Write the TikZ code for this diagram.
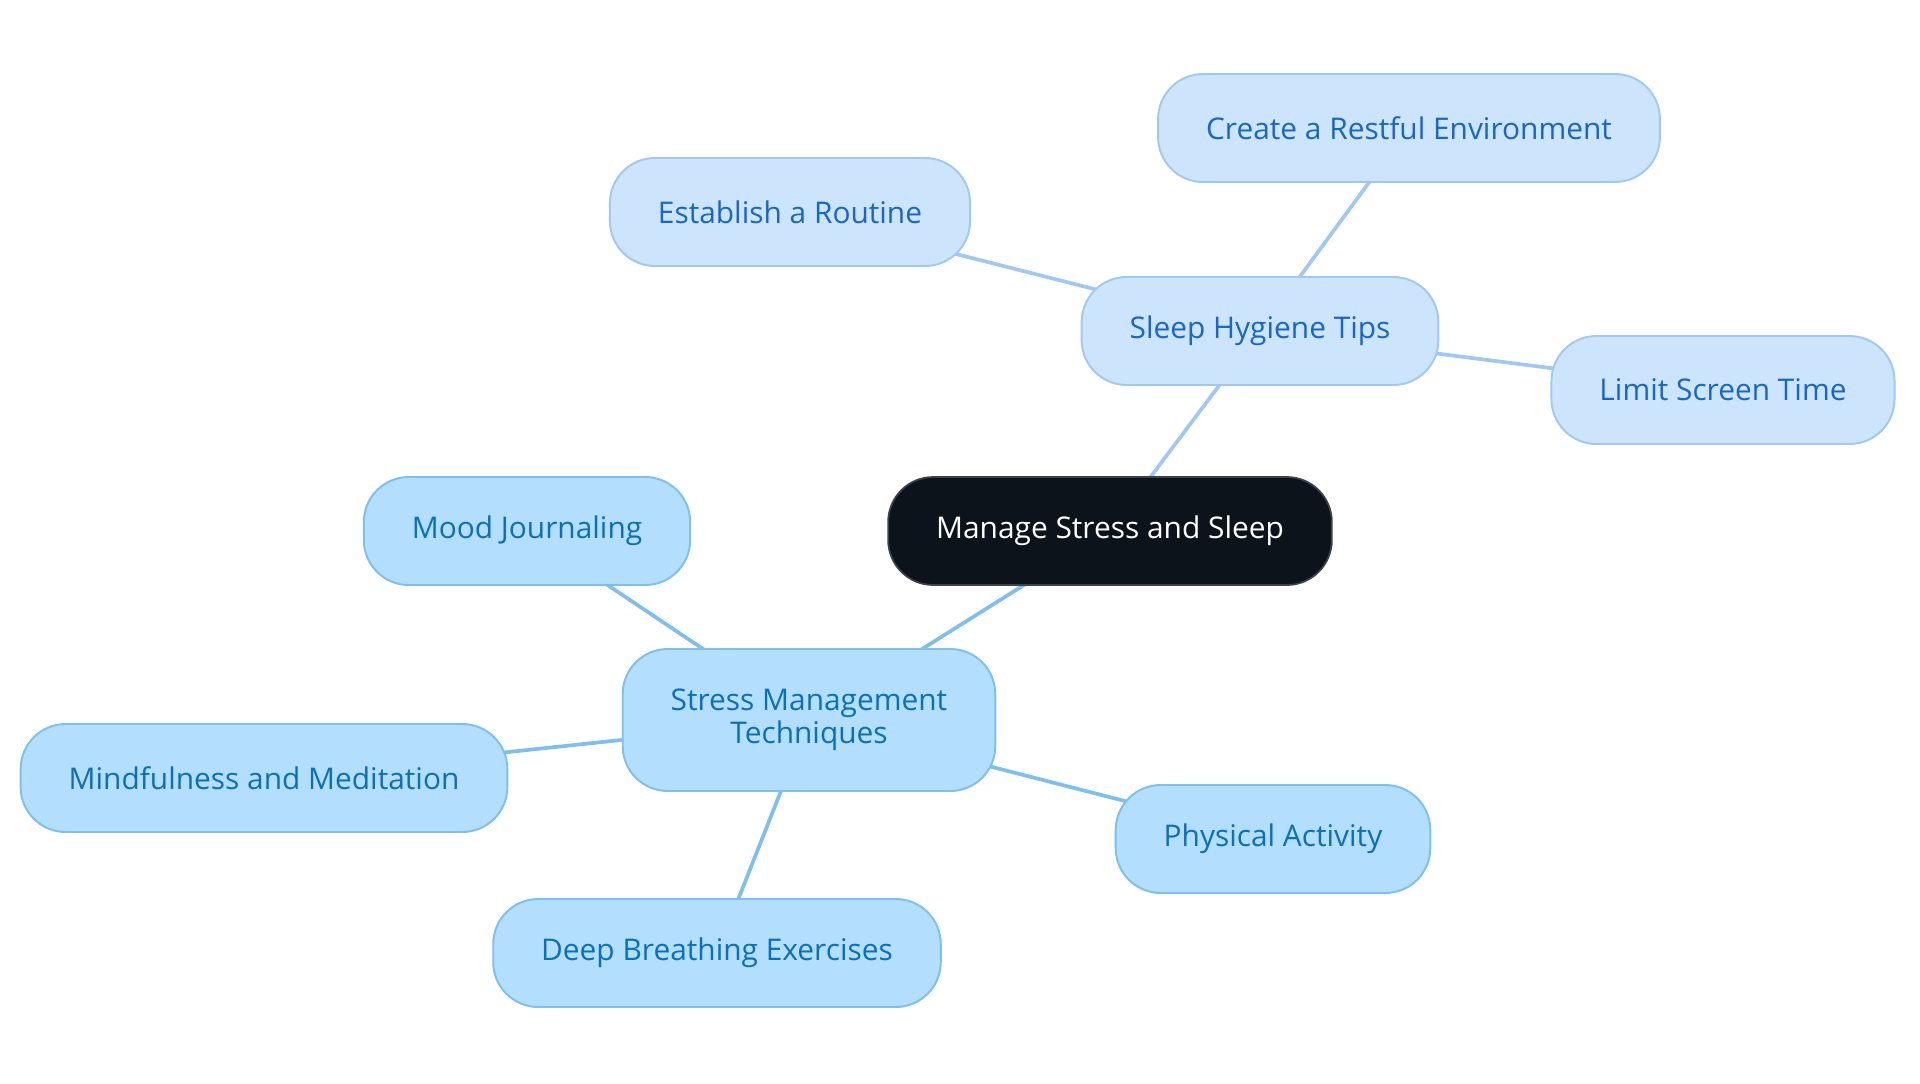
\documentclass[tikz,border=0pt]{standalone}
\usepackage{fontspec}
\setmainfont{Open Sans}
\usepackage{tikz}
\usetikzlibrary{positioning, backgrounds}

\definecolor{rootfill}{HTML}{0D131B}
\definecolor{sleepfill}{HTML}{CDE5FC}
\definecolor{sleepline}{HTML}{A2C7F0}
\definecolor{sleeptext}{HTML}{1A66C4}
\definecolor{stressfill}{HTML}{B3DEFD}
\definecolor{stressline}{HTML}{7FBFEC}
\definecolor{stresstext}{HTML}{0C70B6}

\begin{document}
\begin{tikzpicture}[x=0.02cm, y=-0.02cm,
    every node/.style={rectangle, rounded corners=0.9cm, minimum height=2.16cm, inner xsep=0.96cm, align=center, font=\fontsize{17pt}{19pt}\selectfont},
    rootbox/.style={fill=rootfill, draw=rootfill!80!white, line width=1pt, text=white},
    sleepbox/.style={fill=sleepfill, draw=sleepline, line width=1.1pt, text=sleeptext},
    stressbox/.style={fill=stressfill, draw=stressline, line width=1.1pt, text=stresstext},
    sleepedge/.style={draw=sleepline, line width=2.1pt},
    stressedge/.style={draw=stressline, line width=2.1pt}]

    \useasboundingbox (0,0) rectangle (1920,1083);

    % Centre node
    \node[rootbox] (root) at (1110,531) {Manage Stress and Sleep};

    % Sleep branch
    \node[sleepbox] (sleep) at (1260,331) {Sleep Hygiene Tips};
    \node[sleepbox] (restful) at (1409,128) {Create a Restful Environment};
    \node[sleepbox] (routine) at (790,212) {Establish a Routine};
    \node[sleepbox] (screen) at (1723,390) {Limit Screen Time};

    % Stress branch
    \node[stressbox, minimum height=2.84cm] (stress) at (809,720) {Stress Management\\Techniques};
    \node[stressbox] (mood) at (527,531) {Mood Journaling};
    \node[stressbox] (mindful) at (264,778) {Mindfulness and Meditation};
    \node[stressbox] (physical) at (1273,839) {Physical Activity};
    \node[stressbox] (breathing) at (717,953) {Deep Breathing Exercises};

    % Connectors behind the boxes
    \begin{pgfonlayer}{background}
        \draw[sleepedge] (root.center) -- (sleep.center);
        \draw[sleepedge] (sleep.center) -- (restful.center);
        \draw[sleepedge] (sleep.center) -- (routine.center);
        \draw[sleepedge] (sleep.center) -- (screen.center);
        \draw[stressedge] (root.center) -- (stress.center);
        \draw[stressedge] (stress.center) -- (mood.center);
        \draw[stressedge] (stress.center) -- (mindful.center);
        \draw[stressedge] (stress.center) -- (physical.center);
        \draw[stressedge] (stress.center) -- (breathing.center);
    \end{pgfonlayer}

\end{tikzpicture}
\end{document}
